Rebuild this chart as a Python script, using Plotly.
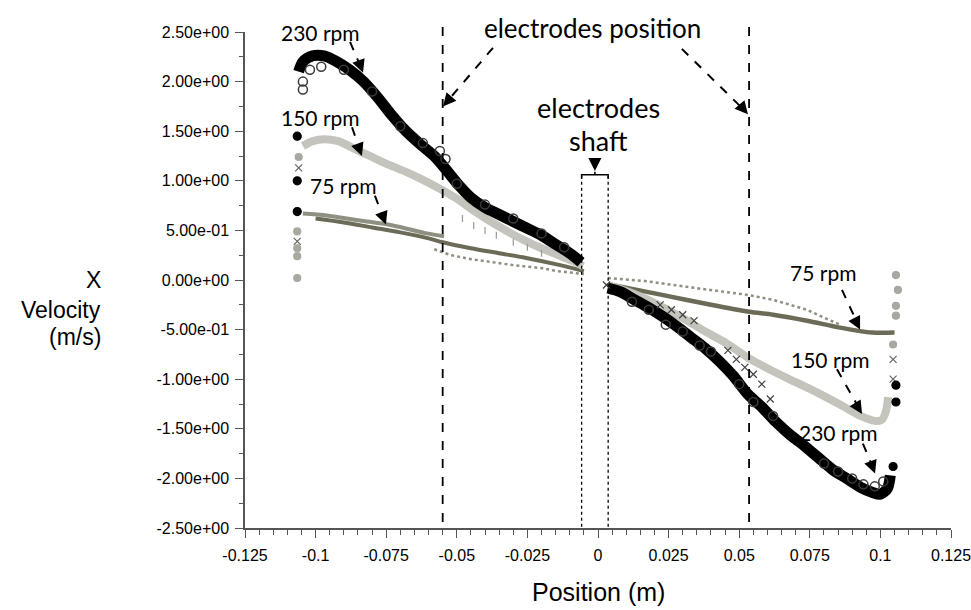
import plotly.graph_objects as go

# ---------------- data ----------------
# 230 rpm, left half (black band + open circles)
x230L = [-0.106, -0.1045, -0.101, -0.097, -0.093, -0.088, -0.083, -0.078, -0.073, -0.068, -0.063, -0.058, -0.054, -0.050, -0.045, -0.040, -0.035, -0.030, -0.025, -0.020, -0.015, -0.010, -0.006]
v230L = [2.10, 2.20, 2.26, 2.26, 2.21, 2.12, 2.00, 1.84, 1.66, 1.50, 1.37, 1.25, 1.12, 0.98, 0.83, 0.73, 0.66, 0.59, 0.52, 0.45, 0.36, 0.27, 0.18]
x230Lc = [-0.1045, -0.1045, -0.102, -0.098, -0.090, -0.080, -0.070, -0.062, -0.056, -0.054, -0.050, -0.040, -0.030, -0.020, -0.012]
v230Lc = [1.92, 2.00, 2.12, 2.15, 2.12, 1.90, 1.55, 1.38, 1.30, 1.22, 0.97, 0.76, 0.62, 0.47, 0.33]

# 150 rpm, left half (light grey band + sparse ticks)
x150L = [-0.1045, -0.101, -0.097, -0.092, -0.086, -0.080, -0.074, -0.068, -0.062, -0.056, -0.050, -0.044, -0.038, -0.032, -0.026, -0.020, -0.014, -0.0089, -0.0053]
v150L = [1.35, 1.40, 1.42, 1.40, 1.32, 1.24, 1.16, 1.09, 1.01, 0.92, 0.82, 0.70, 0.59, 0.49, 0.40, 0.32, 0.25, 0.19, 0.14]
x150Lx = [-0.048, -0.044, -0.040, -0.036, -0.030, -0.025, -0.020]
v150Lx = [0.62, 0.55, 0.50, 0.45, 0.38, 0.33, 0.27]

# 75 rpm, left half (dark line + light lines)
x75L = [-0.100, -0.090, -0.080, -0.070, -0.060, -0.055, -0.045, -0.035, -0.025, -0.015, -0.005]
v75L = [0.62, 0.58, 0.53, 0.48, 0.42, 0.38, 0.32, 0.27, 0.22, 0.16, 0.09]
x75La = [-0.1045, -0.096, -0.0843, -0.0726, -0.0606, -0.0545]
v75La = [0.67, 0.65, 0.60, 0.55, 0.47, 0.44]
x75Lb = [-0.058, -0.052, -0.045, -0.038, -0.030, -0.020, -0.0145, -0.005]
v75Lb = [0.31, 0.25, 0.21, 0.18, 0.15, 0.12, 0.09, 0.06]

# 230 rpm, right half
x230R = [0.0035, 0.008, 0.013, 0.018, 0.023, 0.028, 0.033, 0.038, 0.043, 0.048, 0.053, 0.058, 0.063, 0.068, 0.073, 0.078, 0.083, 0.088, 0.093, 0.097, 0.100, 0.1025, 0.1035]
v230R = [-0.08, -0.12, -0.20, -0.28, -0.37, -0.47, -0.58, -0.69, -0.82, -0.97, -1.15, -1.28, -1.43, -1.56, -1.67, -1.79, -1.91, -2.00, -2.09, -2.14, -2.16, -2.10, -1.97]
x230Rc = [0.012, 0.018, 0.024, 0.030, 0.036, 0.040, 0.050, 0.055, 0.062, 0.080, 0.085, 0.090, 0.094, 0.098, 0.101]
v230Rc = [-0.22, -0.30, -0.45, -0.52, -0.66, -0.72, -1.05, -1.23, -1.37, -1.85, -1.93, -2.00, -2.06, -2.08, -2.03]
x230Rx = [0.003, 0.022, 0.026, 0.030, 0.034, 0.046, 0.049, 0.052, 0.055, 0.058, 0.061]
v230Rx = [-0.05, -0.25, -0.30, -0.35, -0.41, -0.71, -0.80, -0.88, -0.95, -1.05, -1.20]

# 150 rpm, right half
x150R = [0.0035, 0.010, 0.017, 0.024, 0.031, 0.038, 0.045, 0.0535, 0.062, 0.070, 0.078, 0.086, 0.093, 0.098, 0.1005, 0.1020, 0.1027]
v150R = [-0.05, -0.11, -0.19, -0.29, -0.40, -0.52, -0.63, -0.79, -0.92, -1.03, -1.14, -1.26, -1.37, -1.42, -1.41, -1.32, -1.18]

# 75 rpm, right half
x75R = [0.005, 0.0227, 0.040, 0.0535, 0.062, 0.074, 0.0857, 0.097, 0.105]
v75R = [-0.05, -0.15, -0.25, -0.32, -0.35, -0.41, -0.48, -0.53, -0.53]
x75Ra = [0.0035, 0.0166, 0.0343, 0.053, 0.062, 0.074, 0.080, 0.0857]
v75Ra = [0.02, -0.01, -0.08, -0.15, -0.20, -0.30, -0.38, -0.45]

# scattered wall points
xEdgeBlack = [-0.1065, -0.1065, -0.1065, 0.1055, 0.1055, 0.1045]
vEdgeBlack = [1.45, 1.00, 0.69, -1.06, -1.23, -1.88]
xEdgeGrey = [-0.1060, -0.1065, -0.1065, -0.1065, -0.1065, 0.1055, 0.1062, 0.1055, 0.1055, 0.1045]
vEdgeGrey = [1.24, 0.49, 0.32, 0.24, 0.02, 0.05, -0.10, -0.26, -0.36, -0.65]
xEdgeCross = [-0.1065, -0.1060, 0.1045, 0.1045]
vEdgeCross = [0.39, 1.13, -0.80, -1.00]

# tick labels
xTicks = [-0.125, -0.1, -0.075, -0.05, -0.025, 0, 0.025, 0.05, 0.075, 0.1, 0.125]
xTickText = ["-0.125", "-0.1", "-0.075", "-0.05", "-0.025", "0", "0.025", "0.05", "0.075", "0.1", "0.125"]
yTicks = [2.5, 2.0, 1.5, 1.0, 0.5, 0.0, -0.5, -1.0, -1.5, -2.0, -2.5]
yTickText = ["2.50e+00", "2.00e+00", "1.50e+00", "1.00e+00", "5.00e-01", "0.00e+00",
             "-5.00e-01", "-1.00e+00", "-1.50e+00", "-2.00e+00", "-2.50e+00"]

BLACK = "#000000"
GREY150 = "#c4c4bc"
OLIVE = "#6b6b58"
OLIVE_L = "#8f8f82"

fig = go.Figure()

def band(x, y, color, width, dash="solid", shape="spline"):
    fig.add_trace(go.Scatter(x=x, y=y, mode="lines",
                             line=dict(color=color, width=width, shape=shape, smoothing=0.8, dash=dash),
                             hoverinfo="skip", showlegend=False))

def pts(x, y, symbol, color, size, lw=1.2):
    fig.add_trace(go.Scatter(x=x, y=y, mode="markers",
                             marker=dict(symbol=symbol, color=color, size=size, line=dict(color=color, width=lw)),
                             hoverinfo="skip", showlegend=False))

# 75 rpm
band(x75La, v75La, OLIVE_L, 4)
band(x75L, v75L, OLIVE, 4)
band(x75Lb, v75Lb, OLIVE_L, 2.5, "dot", "linear")
band(x75Ra, v75Ra, OLIVE_L, 2.5, "dot", "linear")
band(x75R, v75R, OLIVE, 4.5)
# 150 rpm
band(x150L, v150L, GREY150, 8)
band(x150R, v150R, GREY150, 8)
pts(x150Lx, v150Lx, "line-ns", "#9a9a90", 5)
# 230 rpm
band(x230L, v230L, BLACK, 11)
band(x230R, v230R, BLACK, 11)
pts(x230Lc, v230Lc, "circle-open", "#3a3a3a", 9, 1.5)
pts(x230Rc, v230Rc, "circle-open", "#3a3a3a", 9, 1.5)
pts(x230Rx, v230Rx, "x-thin-open", "#404040", 7)
# wall points
pts(xEdgeGrey, vEdgeGrey, "circle", "#a8a8a0", 7)
pts(xEdgeCross, vEdgeCross, "x-thin-open", "#666666", 7)
pts(xEdgeBlack, vEdgeBlack, "circle", BLACK, 8)

# ---------------- reference lines ----------------
def xp(xd):
    return (xd + 0.125) / 0.25

shapes = []
for xe in [-0.055, 0.0535]:
    shapes.append(dict(type="line", xref="paper", yref="paper", x0=xp(xe), x1=xp(xe), y0=1.010, y1=0,
                       line=dict(color="black", width=1.8, dash="dash")))
for xs in [-0.0058, 0.0036]:
    shapes.append(dict(type="line", xref="x", yref="y", x0=xs, x1=xs, y0=1.05, y1=-2.5,
                       line=dict(color="black", width=1.3, dash="dot")))
# brace over the shaft
shapes.append(dict(type="path", xref="x", yref="y",
                   path="M -0.0058,1.02 L -0.0058,1.06 L -0.0011,1.06 L -0.0011,1.09 M -0.0011,1.06 L 0.0036,1.06 L 0.0036,1.02",
                   line=dict(color="black", width=1.5)))

# dashed arrow bodies
arrow_lines = [
    (-0.0878, 2.40, -0.0836, 2.12),
    (-0.0871, 1.54, -0.0840, 1.28),
    (-0.0790, 0.85, -0.0755, 0.59),
    (0.0864, -0.10, 0.0924, -0.47),
    (0.0846, -0.90, 0.0930, -1.32),
    (0.0938, -1.65, 0.0978, -1.92),
    (-0.0372, 2.34, -0.0540, 1.78),
    (0.0297, 2.33, 0.0522, 1.70),
]
for (xa, ya, xb, yb) in arrow_lines:
    shapes.append(dict(type="line", xref="x", yref="y", x0=xa, y0=ya, x1=xb, y1=yb,
                       line=dict(color="black", width=2, dash="dash")))

annotations = []
heads = [
    (-0.0832, 2.09, -3, -8),
    (-0.0836, 1.25, -3, -8),
    (-0.0751, 0.56, -3, -8),
    (0.0928, -0.50, -4, -8),
    (0.0935, -1.35, -5, -8),
    (0.0981, -1.95, -3, -8),
    (-0.0549, 1.75, 6, -7),
    (0.0531, 1.67, -6, -7),
    (-0.0011, 1.10, 0, -12),
]
for (xh, yh, ax, ay) in heads:
    annotations.append(dict(x=xh, y=yh, xref="x", yref="y", ax=ax, ay=ay, text="", showarrow=True,
                            arrowhead=2, arrowsize=1.3, arrowwidth=2, arrowcolor="black"))

LABEL_FONT = dict(family="Lato, Open Sans, sans-serif", size=21, color="black")
BIG_FONT = dict(family="Lato, Open Sans, sans-serif", size=27, color="black")
labels = [
    ("230 rpm", -0.0984, 2.49, LABEL_FONT),
    ("150 rpm", -0.0984, 1.64, LABEL_FONT),
    ("75 rpm", -0.0903, 0.95, LABEL_FONT),
    ("75 rpm", 0.0797, 0.08, LABEL_FONT),
    ("150 rpm", 0.0822, -0.80, LABEL_FONT),
    ("230 rpm", 0.0850, -1.54, LABEL_FONT),
    ("electrodes", 0.0, 1.74, BIG_FONT),
    ("shaft", 0.0, 1.41, BIG_FONT),
]
for (t, xl, yl, f) in labels:
    annotations.append(dict(x=xl, y=yl, xref="x", yref="y", text=t, showarrow=False, font=f,
                            xanchor="center", yanchor="middle"))
annotations.append(dict(x=xp(-0.0021), y=1.008, xref="paper", yref="paper", text="electrodes position",
                        showarrow=False, xanchor="center", yanchor="middle",
                        font=dict(family="Lato, Open Sans, sans-serif", size=26, color="black")))

# axis titles
TITLE_FONT = dict(family="Liberation Sans, Arial, sans-serif", size=23, color="black")
for txt, yv in [("X", 0.0), ("Velocity", -0.30), ("(m/s)", -0.57)]:
    annotations.append(dict(x=-0.201, y=yv, xref="paper", yref="y", text=txt, showarrow=False,
                            xanchor="right", yanchor="middle", font=TITLE_FONT))
annotations.append(dict(x=0.5, y=-0.129, xref="paper", yref="paper", text="Position (m)",
                        showarrow=False, xanchor="center", yanchor="middle",
                        font=dict(family="Liberation Sans, Arial, sans-serif", size=25, color="black")))

TICK_FONT = dict(family="Liberation Sans, Arial, sans-serif", size=16, color="black")

fig.update_layout(
    width=971, height=610,
    margin=dict(l=245, r=20, t=32, b=82, autoexpand=False),
    paper_bgcolor="white", plot_bgcolor="white",
    shapes=shapes, annotations=annotations,
    xaxis=dict(range=[-0.125, 0.125], tickvals=xTicks, ticktext=xTickText, showgrid=False, zeroline=False,
               automargin=False,
               showline=True, linecolor="#555555", linewidth=1.5, ticks="outside", ticklen=8, tickwidth=1.3,
               tickcolor="#555555", tickfont=TICK_FONT, ticklabelstandoff=4, ticklabeloverflow="allow",
               minor=dict(dtick=0.005, tick0=0, ticks="outside", ticklen=5, tickcolor="#555555", showgrid=False)),
    yaxis=dict(range=[-2.5, 2.5], tickvals=yTicks, ticktext=yTickText, showgrid=False, zeroline=False,
               automargin=False,
               showline=True, linecolor="#555555", linewidth=1.5, ticks="outside", ticklen=8, tickwidth=1.3,
               tickcolor="#555555", tickfont=TICK_FONT, ticklabelstandoff=3, ticklabeloverflow="allow",
               minor=dict(dtick=0.25, tick0=0, ticks="outside", ticklen=4, tickcolor="#555555", showgrid=False)),
)

fig.write_html("out.html", config={"displayModeBar": False},
               post_script="document.body.style.margin='0';document.body.style.overflow='hidden';")
